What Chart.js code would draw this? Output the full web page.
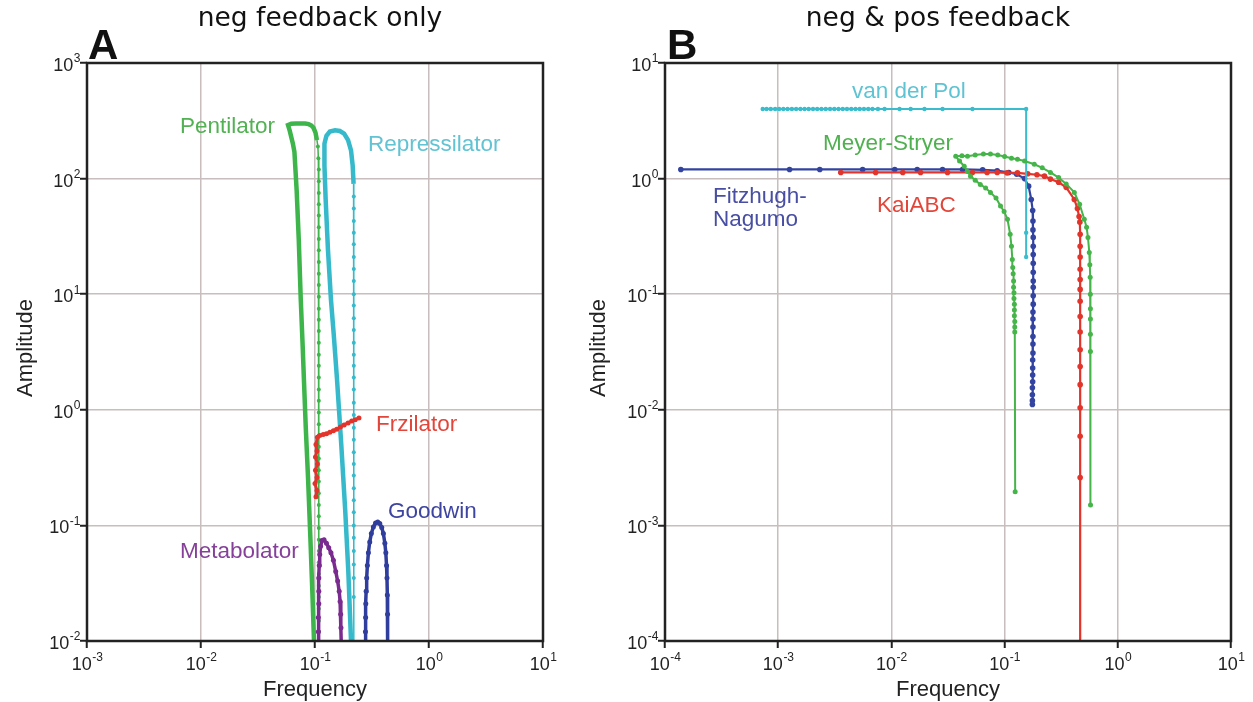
<!DOCTYPE html>
<html><head><meta charset="utf-8">
<script src="https://cdn.jsdelivr.net/npm/chart.js@4.4.0/dist/chart.umd.min.js"></script>
<style>
html,body{margin:0;padding:0;background:#fff;width:1253px;height:702px;overflow:hidden;}
canvas{position:absolute;top:0;}
#ca{left:0;}
#cb{left:580px;}
</style></head><body>
<canvas id="ca" width="620" height="702"></canvas>
<canvas id="cb" width="673" height="702"></canvas>
<script>
// ---------- Panel A : neg feedback only ----------
const aXExp = [-3, -2, -1, 0, 1];
const aYExp = [-2, -1, 0, 1, 2, 3];

const pentFreq = [0.098,0.095,0.091,0.087,0.083,0.080,0.078,0.075,0.072,0.069,0.066,0.064,0.060,0.058,
  0.062,0.068,0.075,0.082,0.088,0.093,0.097,0.101,0.104,
  0.106,0.107,0.108,0.108,0.108,0.108,0.108,0.108,0.108,0.108,0.108,0.108,0.108,0.108,0.108,0.108,0.108,0.108,0.108,0.108,0.108,0.108,0.108,0.108,0.108,0.108,0.108,0.108,0.108,0.108,0.108,0.108,0.108,0.108,0.108,0.108,0.108,0.108,0.108,0.108,0.108,0.108,0.108];
const pentAmp = [0.01,0.025,0.08,0.25,0.7,1.8,3.5,9,30,80,170,200,260,290,
  298,300,300,299,296,288,275,250,215,
  190,150,120,95,75,60,48,38,30,24,19,15,12,9.5,7.5,6,4.8,3.8,3,2.4,1.9,1.5,1.2,0.95,0.75,0.6,0.48,0.38,0.3,0.24,0.19,0.15,0.12,0.095,0.075,0.06,0.048,0.038,0.03,0.024,0.019,0.015,0.012,0.0095];

const repFreq = [0.207,0.196,0.184,0.170,0.156,0.146,0.138,0.130,0.124,0.121,0.121,0.126,0.135,0.150,0.165,0.180,0.195,0.207,0.214,0.218,
  0.219,0.219,0.219,0.219,0.219,0.219,0.219,0.219,0.219,0.219,0.219,0.219,0.219,0.219,0.219,0.219,0.219,0.219,0.219,0.219,0.219,0.219,0.219,0.219,0.219,0.219,0.219,0.219,0.219,0.219,0.219,0.219,0.219,0.219];
const repAmp = [0.01,0.04,0.136,0.5,1.83,4.5,9,24,66,130,200,235,255,262,258,245,215,175,130,90,
  70,55,43,34,27,21,16.5,13,10,8,6.2,4.9,3.8,3,2.4,1.9,1.5,1.15,0.9,0.7,0.55,0.43,0.34,0.27,0.21,0.165,0.13,0.1,0.078,0.06,0.046,0.035,0.024,0.0095];

const frzFreq = [0.102,0.104,0.100,0.104,0.101,0.105,0.101,0.104,0.102,0.105,0.110,0.118,0.126,0.135,0.145,0.155,0.167,0.180,0.195,0.210,0.225,0.243];
const frzAmp  = [0.177,0.2,0.23,0.26,0.3,0.34,0.39,0.44,0.5,0.58,0.6,0.61,0.62,0.64,0.66,0.68,0.71,0.74,0.77,0.80,0.82,0.85];

const metFreq = [0.107,0.107,0.107,0.108,0.108,0.108,0.109,0.110,0.112,0.115,0.120,0.126,0.132,0.138,0.145,0.152,0.158,0.163,0.166,0.168,0.169,0.170];
const metAmp  = [0.0095,0.012,0.016,0.021,0.027,0.035,0.045,0.056,0.066,0.074,0.075,0.07,0.064,0.058,0.05,0.04,0.033,0.027,0.022,0.017,0.013,0.0095];

const goodFreq = [0.276,0.277,0.278,0.279,0.281,0.284,0.288,0.294,0.302,0.312,0.325,0.340,0.355,0.370,0.385,0.398,0.410,0.418,0.424,0.428,0.431,0.433,0.434];
const goodAmp  = [0.0095,0.012,0.016,0.021,0.027,0.035,0.045,0.058,0.072,0.085,0.097,0.105,0.107,0.104,0.096,0.085,0.07,0.058,0.045,0.035,0.025,0.017,0.0095];

// ---------- Panel B : neg & pos feedback ----------
const bXExp = [-4, -3, -2, -1, 0, 1];
const bYExp = [-4, -3, -2, -1, 0, 1];

const vdpFreq = [7.3e-4,7.9e-4,8.6e-4,9.4e-4,1.02e-3,1.11e-3,1.21e-3,1.32e-3,1.44e-3,1.57e-3,1.71e-3,1.86e-3,2.03e-3,2.21e-3,2.41e-3,2.63e-3,2.87e-3,3.13e-3,3.41e-3,3.72e-3,4.05e-3,4.42e-3,4.82e-3,5.25e-3,5.72e-3,6.24e-3,6.8e-3,7.6e-3,8.7e-3,0.0118,0.0148,0.0196,0.0283,0.052,0.155,0.155,0.155];
const vdpAmp  = [4,4,4,4,4,4,4,4,4,4,4,4,4,4,4,4,4,4,4,4,4,4,4,4,4,4,4,4,4,4,4,4,4,4,4,0.34,0.21];

const fnFreq = [1.38e-4,1.26e-3,2.33e-3,5.57e-3,0.0107,0.0169,0.0283,0.0425,0.064,0.086,0.109,0.128,0.150,0.163,0.172,
  0.177,0.178,0.178,0.179,0.179,0.179,0.179,0.179,0.179,0.179,0.179,0.179,0.178,0.178,0.178,0.178,0.178,0.178,0.177,0.177,0.177,0.177,0.176,0.176,0.176,0.176];
const fnAmp  = [1.2,1.2,1.2,1.2,1.2,1.2,1.2,1.2,1.19,1.17,1.13,1.09,1.0,0.86,0.66,
  0.53,0.43,0.36,0.31,0.26,0.22,0.185,0.155,0.13,0.115,0.097,0.082,0.07,0.061,0.052,0.043,0.037,0.031,0.027,0.023,0.02,0.0175,0.0155,0.0135,0.012,0.0111];

const kaiFreq = [3.57e-3,7.26e-3,0.0126,0.0181,0.0313,0.052,0.070,0.086,0.105,0.130,0.160,0.193,0.225,0.254,0.30,0.35,0.413,0.44,0.455,0.462,
  0.465,0.465,0.465,0.465,0.465,0.465,0.465,0.465,0.465,0.465,0.465,0.465,0.465,0.465,0.465,0.465];
const kaiAmp  = [1.13,1.13,1.13,1.13,1.13,1.13,1.13,1.13,1.12,1.12,1.1,1.08,1.05,0.99,0.93,0.84,0.66,0.55,0.47,0.42,
  0.33,0.26,0.21,0.164,0.134,0.110,0.087,0.064,0.047,0.033,0.0237,0.0165,0.0104,0.0059,0.0026,0.00001];

const msFreq = [0.124,0.123,0.123,0.123,0.122,0.122,0.122,0.121,0.121,0.120,0.120,0.119,0.118,0.117,0.115,0.112,0.106,0.099,0.092,0.084,0.075,0.068,0.061,0.055,0.050,0.047,0.044,0.040,0.037,
  0.042,0.047,0.055,0.065,0.075,0.087,0.100,0.115,0.130,0.150,0.183,0.215,0.254,0.30,0.35,0.413,0.46,0.506,0.53,0.545,0.56,0.566,0.57,0.572,0.573,0.573,0.573,0.573,0.574];
const msAmp  = [0.00195,0.047,0.052,0.058,0.065,0.073,0.082,0.092,0.103,0.115,0.13,0.15,0.17,0.20,0.26,0.33,0.445,0.52,0.58,0.68,0.76,0.83,0.89,0.97,1.05,1.15,1.28,1.42,1.56,
  1.58,1.56,1.6,1.63,1.63,1.6,1.55,1.5,1.47,1.42,1.33,1.24,1.13,1.02,0.9,0.76,0.6,0.445,0.38,0.31,0.23,0.18,0.14,0.1,0.075,0.061,0.045,0.032,0.0015];

// ---------- helpers ----------
const SANS = '"Liberation Sans", Arial, Helvetica, sans-serif';
function pts(fx, fy) { return fx.map((x, i) => ({ x: x, y: fy[i] })); }

function ds(fx, fy, color, o) {
  o = o || {};
  const thickUntil = o.thickUntil == null ? -1 : o.thickUntil;
  const lastNoDot = !!o.lastNoDot;
  const n = fx.length;
  return {
    data: pts(fx, fy),
    showLine: true,
    borderColor: color,
    backgroundColor: color,
    pointBorderWidth: 0,
    pointRadius: ctx => {
      const i = ctx.dataIndex;
      if (lastNoDot && i === n - 1) return 0;
      if (i < thickUntil) return o.thickDot || 0;
      return o.r || 2.5;
    },
    borderWidth: o.w || 2,
    segment: {
      borderWidth: ctx => (ctx.p0DataIndex < thickUntil - 1 ? (o.thickW || 4) : (o.w || 2))
    },
    tension: 0
  };
}

function drawPow(ctx, x, y, exp, align) {
  const big = '18px ' + SANS, small = '12px ' + SANS;
  ctx.font = big; const wb = ctx.measureText('10').width;
  const es = String(exp);
  ctx.font = small; const we = ctx.measureText(es).width;
  const x0 = align === 'right' ? x - wb - we : x - (wb + we) / 2;
  ctx.textAlign = 'left'; ctx.textBaseline = 'middle'; ctx.fillStyle = '#222';
  ctx.font = big; ctx.fillText('10', x0, y);
  ctx.font = small; ctx.fillText(es, x0 + wb + 0.5, y - 7);
}

function framePlugin(spec) {
  return {
    id: 'frame',
    afterDatasetsDraw(chart) {
      const c = chart.ctx, a = chart.chartArea;
      c.save();
      c.strokeStyle = '#222'; c.lineWidth = 2.5;
      c.strokeRect(a.left, a.top, a.right - a.left, a.bottom - a.top);
      c.restore();
    },
    afterDraw(chart) {
      const c = chart.ctx, a = chart.chartArea;
      const xs = chart.scales.x, ys = chart.scales.y;
      c.save();
      spec.xExp.forEach(e => drawPow(c, xs.getPixelForValue(Math.pow(10, e)), a.bottom + 24, e, 'center'));
      spec.yExp.forEach(e => drawPow(c, a.left - 7, ys.getPixelForValue(Math.pow(10, e)) + 3, e, 'right'));
      // axis titles
      c.fillStyle = '#222'; c.font = '22px ' + SANS;
      c.textAlign = 'center'; c.textBaseline = 'middle';
      c.fillText('Frequency', (a.left + a.right) / 2, 690);
      c.save(); c.translate(spec.ampX, (a.top + a.bottom) / 2 - 4); c.rotate(-Math.PI / 2);
      c.fillText('Amplitude', 0, 0); c.restore();
      // panel title
      c.font = '26.5px "DejaVu Sans", sans-serif'; c.fillStyle = '#111';
      c.fillText(spec.title, spec.titleX, 19);
      // panel letter
      c.font = 'bold 42px ' + SANS; c.textAlign = 'left'; c.textBaseline = 'alphabetic';
      c.fillText(spec.letter, spec.letterX, 59);
      // curve labels
      c.font = '22.5px ' + SANS; c.textBaseline = 'middle';
      spec.labels.forEach(l => { c.fillStyle = l.color; c.fillText(l.text, l.x, l.y); });
      c.restore();
    }
  };
}

function makePanel(id, spec) {
  const gridCfg = { color: '#c8bebe', lineWidth: 1.5, drawTicks: true, tickLength: 7, tickColor: '#222', tickWidth: 2 };
  return new Chart(document.getElementById(id), {
    type: 'scatter',
    data: { datasets: spec.datasets },
    options: {
      responsive: false, animation: false, devicePixelRatio: 1,
      layout: { padding: { left: 0, top: 63, right: spec.padRight, bottom: 0 } },
      plugins: { legend: { display: false }, tooltip: { enabled: false }, title: { display: false } },
      scales: {
        x: {
          type: 'logarithmic', position: 'bottom',
          min: Math.pow(10, spec.xExp[0]), max: Math.pow(10, spec.xExp[spec.xExp.length - 1]),
          afterBuildTicks: s => { s.ticks = spec.xExp.map(e => ({ value: Math.pow(10, e) })); },
          afterFit: s => { s.height = 61; },
          ticks: { display: false },
          grid: gridCfg, border: { display: false }
        },
        y: {
          type: 'logarithmic', position: 'left',
          min: Math.pow(10, spec.yExp[0]), max: Math.pow(10, spec.yExp[spec.yExp.length - 1]),
          afterBuildTicks: s => { s.ticks = spec.yExp.map(e => ({ value: Math.pow(10, e) })); },
          afterFit: s => { s.width = spec.yWidth; },
          ticks: { display: false },
          grid: gridCfg, border: { display: false }
        }
      }
    },
    plugins: [framePlugin(spec)]
  });
}

const GREEN = '#3db54a', CYAN = '#36b9ca', RED = '#e3342b', PURPLE = '#7a2b8f', BLUE = '#2f3d9c';

makePanel('ca', {
  xExp: aXExp, yExp: aYExp, yWidth: 87, padRight: 77, ampX: 26,
  title: 'neg feedback only', titleX: 320, letter: 'A', letterX: 88,
  datasets: [
    ds(frzFreq, frzAmp, RED, { w: 3, r: 2.5 }),
    ds(metFreq, metAmp, PURPLE, { w: 3.5, r: 2.5 }),
    ds(goodFreq, goodAmp, BLUE, { w: 3.5, r: 2.5 }),
    ds(repFreq, repAmp, CYAN, { w: 1.5, r: 2, thickUntil: 20, thickW: 4.5, thickDot: 0 }),
    ds(pentFreq, pentAmp, GREEN, { w: 1.5, r: 2, thickUntil: 23, thickW: 4.5, thickDot: 0 })
  ],
  labels: [
    { text: 'Pentilator', x: 180, y: 127, color: '#52b152' },
    { text: 'Repressilator', x: 368, y: 145, color: '#62c3d3' },
    { text: 'Frzilator', x: 376, y: 425, color: '#e2463a' },
    { text: 'Goodwin', x: 388, y: 512, color: '#3e45a0' },
    { text: 'Metabolator', x: 180, y: 552, color: '#86409a' }
  ]
});

makePanel('cb', {
  xExp: bXExp, yExp: bYExp, yWidth: 85, padRight: 22, ampX: 19,
  title: 'neg & pos feedback', titleX: 938 - 580, letter: 'B', letterX: 667 - 580,
  datasets: [
    ds(msFreq, msAmp, '#45b449', { w: 2, r: 2.5 }),
    ds(vdpFreq, vdpAmp, '#3bbccc', { w: 2, r: 2.2 }),
    ds(kaiFreq, kaiAmp, RED, { w: 2.2, r: 2.8, lastNoDot: true }),
    ds(fnFreq, fnAmp, '#3344a0', { w: 2.2, r: 2.8 })
  ],
  labels: [
    { text: 'van der Pol', x: 852 - 580, y: 92, color: '#5ec3d2' },
    { text: 'Meyer-Stryer', x: 823 - 580, y: 144, color: '#4fb04f' },
    { text: 'Fitzhugh-', x: 713 - 580, y: 197, color: '#474ea3' },
    { text: 'Nagumo', x: 713 - 580, y: 220, color: '#474ea3' },
    { text: 'KaiABC', x: 877 - 580, y: 206, color: '#e2463a' }
  ]
});
</script>
</body></html>
